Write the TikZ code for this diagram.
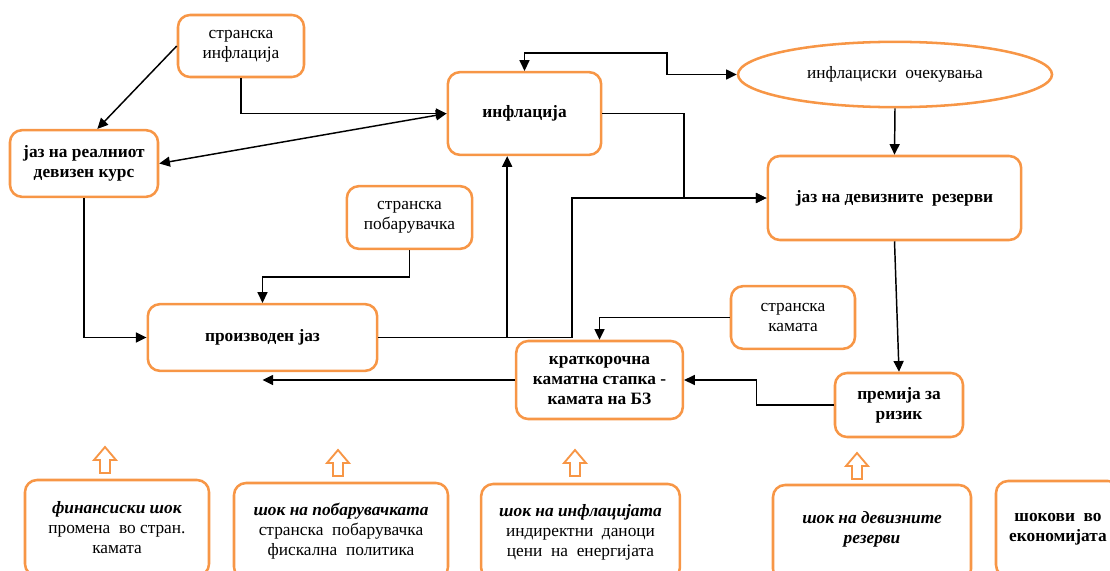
\documentclass[tikz,border=0pt]{standalone}
\usepackage{fontspec}
\setmainfont{Liberation Serif}
\usepackage{tikz}
\usetikzlibrary{arrows.meta,shapes.geometric}
\definecolor{boxorange}{RGB}{247,150,70}
\tikzset{mybox/.style={draw=boxorange,line width=1.9pt,rounded corners=9pt,align=center,inner sep=1pt,font=\fontsize{13}{15}\selectfont},
myboldbox/.style={mybox,font=\fontsize{13}{15}\selectfont\bfseries},
myshockbox/.style={mybox,minimum height=72pt},
myline/.style={line width=1.1pt,-{Triangle[length=8pt,width=7.5pt]}},
mytwoway/.style={line width=1.1pt,{Triangle[length=8pt,width=7.5pt]}-{Triangle[length=8pt,width=7.5pt]}},
myhollowarrow/.style={draw=boxorange,line width=1.4pt,fill=white}}

\begin{document}
\begin{tikzpicture}[x=0.75pt,y=-0.75pt]
\useasboundingbox (0,0) rectangle (1110,571);
\clip (0,0) rectangle (1110,571);

% upper part of the scheme
\node[mybox,minimum width=94.5pt,minimum height=46.5pt] (sinf) at (241,46) {странска\\инфлација};
\node[myboldbox,minimum width=111pt,minimum height=50pt] (jrdk) at (84,163.5) {јаз на реалниот\\девизен курс};
\node[myboldbox,minimum width=115pt,minimum height=62pt] (infl) at (524.5,113.5) {инфлација};
\node[mybox,shape=ellipse,rounded corners=0pt,inner sep=0pt,minimum width=235.5pt,minimum height=49pt] (ocek) at (895,74.5) {инфлациски\ \ очекувања};
\node[myboldbox,minimum width=190pt,minimum height=63pt] (jdr) at (894.5,198) {јаз на девизните\ \ резерви};
\node[mybox,minimum width=94pt,minimum height=47pt] (spob) at (409.5,217.5) {странска\\побарувачка};
\node[myboldbox,minimum width=172pt,minimum height=50pt] (pjaz) at (262.5,337.5) {производен јаз};
\node[mybox,minimum width=93pt,minimum height=47pt] (skam) at (793,317.5) {странска\\камата};
\node[myboldbox,minimum width=125pt,minimum height=58.5pt] (kkst) at (599.5,380) {краткорочна\\каматна стапка -\\камата на БЗ};
\node[myboldbox,minimum width=96pt,minimum height=48pt] (prem) at (899,405) {премија за\\ризик};

\coordinate (loopA) at (667,53);
\coordinate (bendI) at (684,198);
\coordinate (bendP) at (572,198);

\draw[myline] (sinf.west) -- ([xshift=10pt]jrdk.north);
\draw[myline] (sinf.south) |- (infl.west);
\draw[mytwoway] (infl.west) -- (jrdk.east);
\draw[mytwoway] (infl.north) |- (loopA) |- (ocek.west);
\draw[myline] (ocek.south) -- (jdr.north);
\draw[myline] (infl.east) -| (bendI) -- (jdr.west);
\draw[myline] (pjaz.east) -| (bendP) -- (jdr.west);
\draw[myline] (pjaz.east) -| ([xshift=-13pt]infl.south);
\draw[myline] (spob.south) -- ++(0,27) -| (pjaz.north);
\draw[myline] (jrdk.south) |- (pjaz.west);
\draw[myline] (kkst.west) -- (kkst.west -| pjaz.south);
\draw[myline] (skam.west) -| (kkst.north);
\draw[myline] (prem.west) -- ++(-77,0) |- (kkst.east);
\draw[myline] (jdr.south) -- (prem.north);

% shocks
\node[myshockbox,minimum width=138pt] (finsh) at (117,528) {\textbf{\textit{финансиски шок}}\\промена\ \ во стран.\\камата};
\node[myshockbox,minimum width=160.5pt] (pobsh) at (341,531) {\textbf{\textit{шок на побарувачката}}\\странска\ \ побарувачка\\фискална\ \ политика};
\node[myshockbox,minimum width=149pt] (infsh) at (580.5,532) {\textbf{\textit{шок на инфлацијата}}\\индиректни\ \ даноци\\цени\ \ на\ \ енергијата};
\node[myshockbox,minimum width=148.5pt] (devsh) at (872,533) {\textbf{\textit{шок на девизните}}\\\textbf{\textit{резерви}}\\[-6pt]};
\node[myshockbox,minimum width=93pt,font=\fontsize{13}{15}\selectfont\bfseries] (ekon) at (1058,529) {шокови\ \ во\\економијата};

\foreach \ax/\ay in {105/473,338/476,575/476,857/479}{
\draw[myhollowarrow] ({\ax-5},\ay) -- ({\ax-5},{\ay-13}) -- ({\ax-11},{\ay-13}) -- (\ax,{\ay-26}) -- ({\ax+11},{\ay-13}) -- ({\ax+5},{\ay-13}) -- ({\ax+5},\ay) -- cycle;
}
\end{tikzpicture}
\end{document}
